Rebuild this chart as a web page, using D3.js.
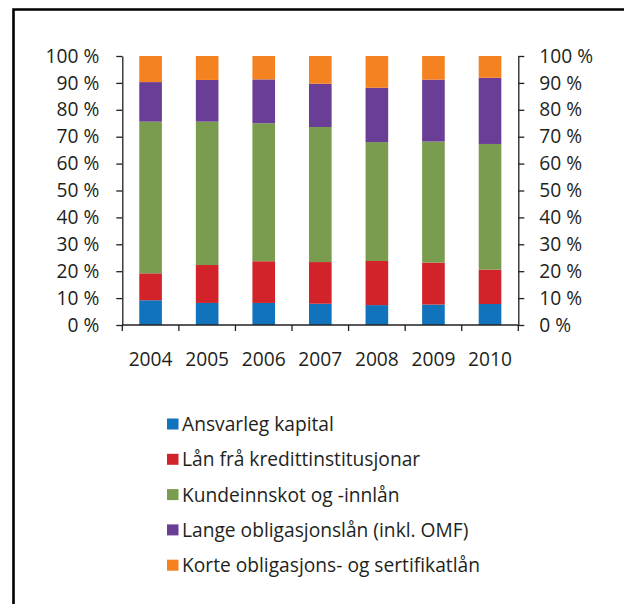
<!DOCTYPE html>
<html><head><meta charset="utf-8">
<script src="https://cdn.jsdelivr.net/npm/d3@7/dist/d3.min.js"></script>
<style>
html,body{margin:0;padding:0;background:#fff;}
svg{display:block;}
text{font-family:"Open Sans",sans-serif;fill:#231f20;}
</style></head>
<body>
<svg id="c" width="624" height="604"></svg>
<script>
const years = ["2004","2005","2006","2007","2008","2009","2010"];
const seriesNames = ["Ansvarleg kapital","Lån frå kredittinstitusjonar","Kundeinnskot og -innlån","Lange obligasjonslån (inkl. OMF)","Korte obligasjons- og sertifikatlån"];
const ansvarleg = [9.2, 8.2, 8.2, 7.9, 7.4, 7.6, 7.8];
const laanKreditt = [10.0, 14.1, 15.5, 15.5, 16.4, 15.6, 12.8];
const kundeinnskot = [56.4, 53.3, 51.3, 50.2, 44.2, 45.0, 46.7];
const langeOblig = [14.7, 15.5, 16.3, 16.1, 20.2, 23.0, 24.6];
const korteOblig = [9.7, 8.9, 8.7, 10.3, 11.8, 8.8, 8.1];
const yTicks = [0,10,20,30,40,50,60,70,80,90,100];
const colors = ["#1173bb","#d2232a","#7a9c4e","#6a3d96","#f58220"];

const seriesVals = [ansvarleg, laanKreditt, kundeinnskot, langeOblig, korteOblig];
const rows = years.map((y,i)=>{const r={year:y}; seriesNames.forEach((n,k)=>r[n]=seriesVals[k][i]); return r;});
const stacked = d3.stack().keys(seriesNames)(rows);

const svg = d3.select("#c");
// frame
svg.append("path").attr("d","M13.5,620 V9.5 H640").attr("fill","none").attr("stroke","#000").attr("stroke-width",2.6);

const L=122.3, R=518.3, T=56, B=325;
const x = d3.scaleBand().domain(years).range([L,R]).paddingInner(0.6).paddingOuter(0.3);
const y = d3.scaleLinear().domain([0,100]).range([B,T]);
const fs = 19.2;

const g = svg.append("g");
g.selectAll("g.s").data(stacked).join("g").attr("fill",(d,i)=>colors[i])
  .selectAll("rect").data(d=>d).join("rect")
  .attr("x",d=>x(d.data.year)).attr("width",x.bandwidth())
  .attr("y",d=>y(d[1])).attr("height",d=>y(d[0])-y(d[1]));

const fmt = d=>d+" %";
const ax = svg.append("g").attr("transform",`translate(${L},0)`)
  .call(d3.axisLeft(y).tickValues(yTicks).tickFormat(fmt).tickSize(6).tickSizeOuter(0).tickPadding(17));
const ax2 = svg.append("g").attr("transform",`translate(${R},0)`)
  .call(d3.axisRight(y).tickValues(yTicks).tickFormat(fmt).tickSize(6).tickSizeOuter(0).tickPadding(15));
[ax,ax2].forEach(a=>{a.selectAll("path,line").attr("stroke","#231f20").attr("stroke-width",1.3);
  a.selectAll("text").attr("font-size",fs).attr("font-family","Open Sans").attr("fill","#231f20");});

// x axis
const step = x.step(), off = (step - x.bandwidth())/2;
const xg = svg.append("g");
xg.append("line").attr("x1",L).attr("x2",R).attr("y1",B).attr("y2",B).attr("stroke","#231f20").attr("stroke-width",1.3);
const bounds = years.map(d=>x(d)-off).concat([x(years[years.length-1])+x.bandwidth()+off]);
xg.selectAll("line.t").data(bounds).join("line").attr("class","t")
  .attr("x1",d=>d).attr("x2",d=>d).attr("y1",B).attr("y2",B+6).attr("stroke","#231f20").attr("stroke-width",1.3);
xg.selectAll("text").data(years).join("text")
  .attr("x",d=>x(d)+x.bandwidth()/2).attr("y",366).attr("text-anchor","middle").attr("font-size",fs).text(d=>d);

// legend
const lg = svg.append("g");
const li = lg.selectAll("g").data(seriesNames).join("g").attr("transform",(d,i)=>`translate(167,${424+i*35.3})`);
li.append("rect").attr("x",0).attr("y",-5.5).attr("width",11.5).attr("height",11).attr("fill",(d,i)=>colors[i]);
li.append("text").attr("x",15).attr("y",7).attr("font-size",fs).text(d=>d);
</script>
</body></html>
